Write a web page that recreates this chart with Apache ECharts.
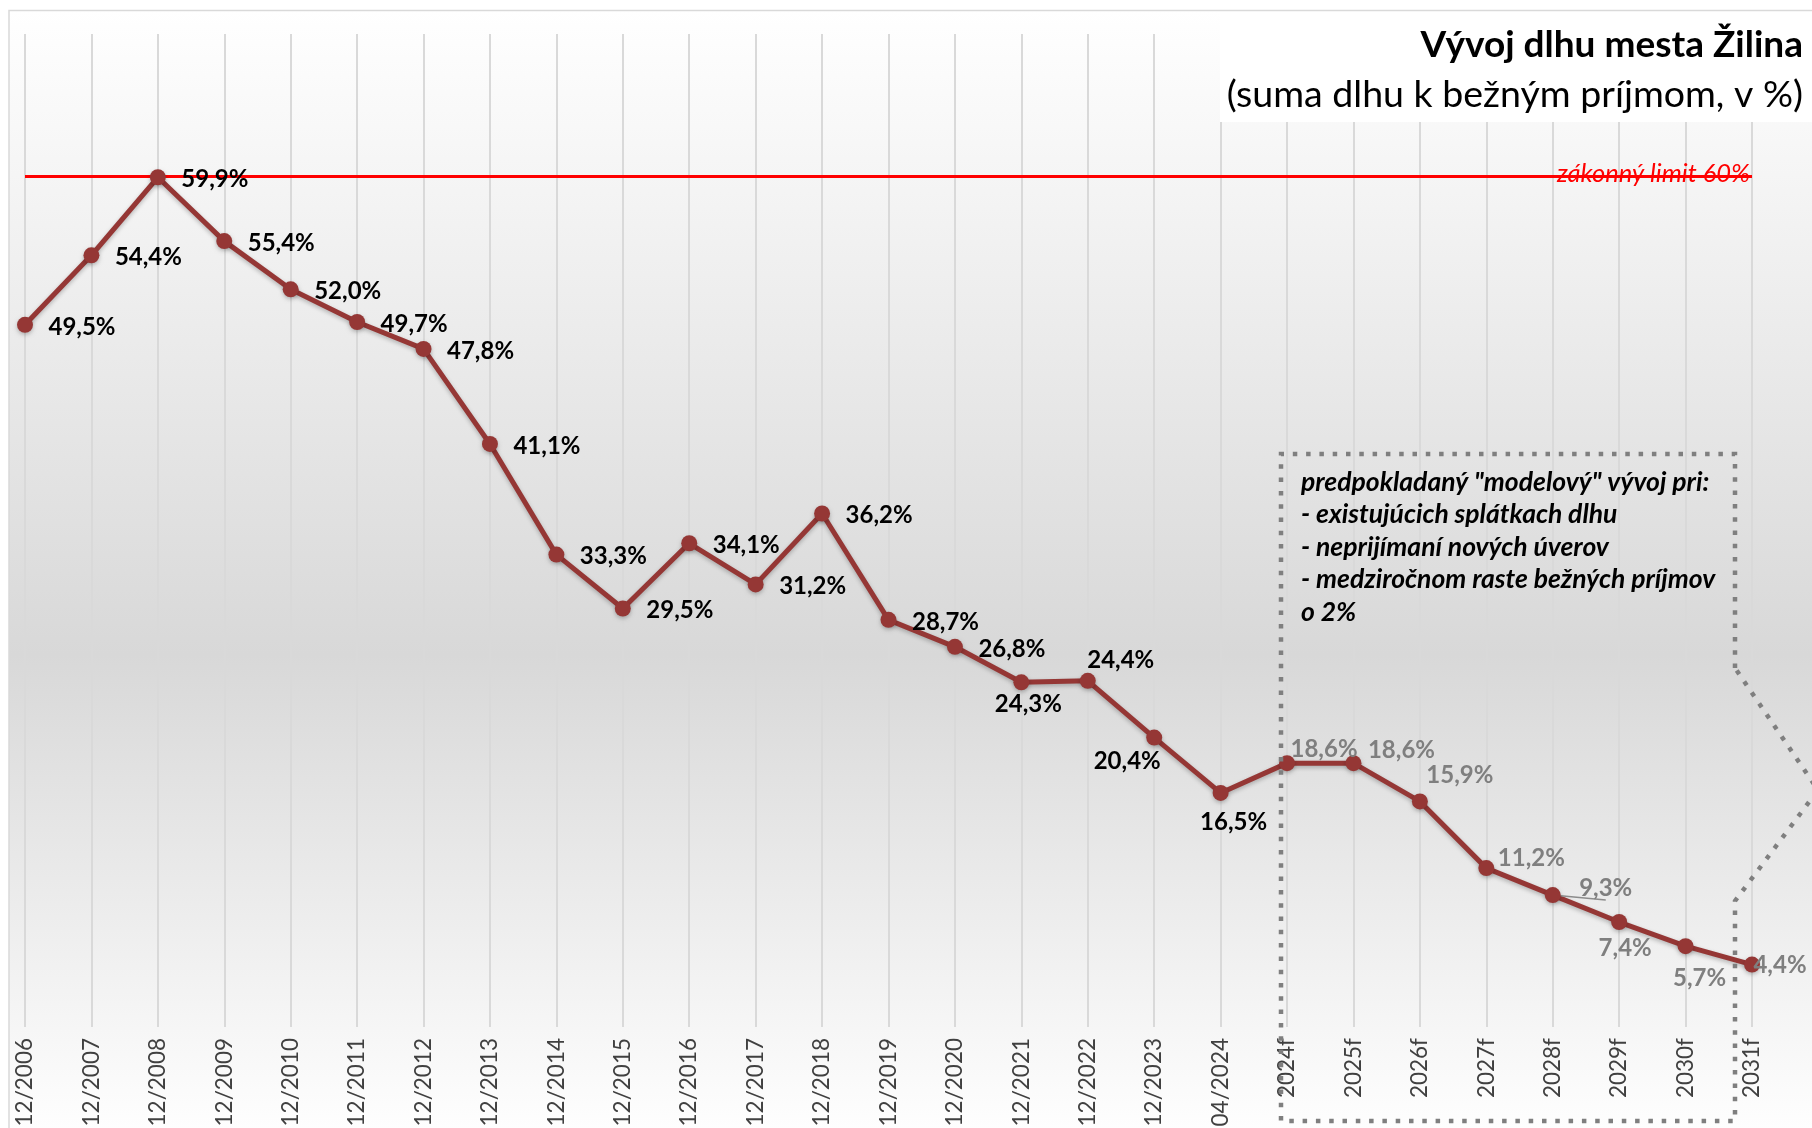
<!DOCTYPE html>
<html>
<head>
<meta charset="utf-8">
<script src="https://cdn.jsdelivr.net/npm/echarts@6/dist/echarts.min.js"></script>
<style>
html,body{margin:0;padding:0;background:#fff;}
#chart{width:1812px;height:1128px;}
</style>
</head>
<body>
<div id="chart"></div>
<script>
// ---- data ----
const categories = ['12/2006','12/2007','12/2008','12/2009','12/2010','12/2011','12/2012','12/2013','12/2014','12/2015','12/2016','12/2017','12/2018','12/2019','12/2020','12/2021','12/2022','12/2023','04/2024','2024f','2025f','2026f','2027f','2028f','2029f','2030f','2031f'];
const historyValues = [49.5,54.4,59.9,55.4,52.0,49.7,47.8,41.1,33.3,29.5,34.1,31.2,36.2,28.7,26.8,24.3,24.4,20.4,16.5];
const forecastValues = [18.6,18.6,15.9,11.2,9.3,7.4,5.7,4.4];
const legalLimit = 60;
const yTicks = {min: 0, max: 70};
const titleText = 'Vývoj dlhu mesta Žilina';
const subtitleText = '(suma dlhu k bežným príjmom, v %)';
const limitLabel = 'zákonný limit 60%';
const noteLines = ['predpokladaný "modelový" vývoj pri:','- existujúcich splátkach dlhu','- neprijímaní nových úverov','- medziročnom raste bežných príjmov','o 2%'];

// ---- label placement (layout only) ----
const R = [57, 2];
const labelOffsets = [R,R,R,R,R,R,R,R,R,R,R,R,R,R,R,[7,22],[33,-21],[-27,24],[13,29],[37,-14],[48,-13],[40,-26],[45,-10],[53,-7],[6,26],[14,32],[28,1]];

const values = historyValues.concat(forecastValues);
const seriesData = values.map((v, i) => {
  const isForecast = i >= historyValues.length;
  const item = {
    value: v,
    label: {offset: labelOffsets[i], color: isForecast ? '#7f7f7f' : '#000000'}
  };
  if (categories[i] === '2028f') {
    item.labelLine = {show: true, lineStyle: {color: '#8c8c8c', width: 1.5}};
  }
  return item;
});

const chart = echarts.init(document.getElementById('chart'), null, {renderer: 'canvas'});
const FONT = 'Lato, "Open Sans", sans-serif';

chart.setOption({
  animation: false,
  backgroundColor: '#ffffff',
  graphic: [
    {type: 'rect', z: -100, silent: true,
     shape: {x: 9, y: 10.5, width: 1820, height: 1130},
     style: {fill: new echarts.graphic.LinearGradient(0, 0, 0, 1, [
        {offset: 0, color: '#ffffff'},
        {offset: 0.57, color: '#d8d8d8'},
        {offset: 1, color: '#ffffff'}]), stroke: '#d9d9d9', lineWidth: 1.5}},
    {type: 'rect', z: 50, silent: true,
     shape: {x: 1220, y: 12, width: 592, height: 110},
     style: {fill: '#ffffff'}},
    {type: 'polyline', z: 60, silent: true,
     shape: {points: [[1735,668],[1735,454],[1281,454],[1281,1121],[1735,1121],[1735,901],[1818,790],[1735,668]]},
     style: {stroke: '#7f7f7f', lineWidth: 4.5, lineDash: [4.5, 8.8], fill: null}},
    {type: 'text', z: 61, silent: true, x: 1301, y: 466,
     style: {text: noteLines.join('\n'), font: 'italic bold 26.5px ' + FONT, fill: '#000000', lineHeight: 32.5, textVerticalAlign: 'top'}}
  ],
  title: [
    {text: titleText, right: 9, top: 27, padding: 0, z: 70,
     textStyle: {fontFamily: FONT, fontWeight: 'bold', fontSize: 37, color: '#000000'}},
    {text: subtitleText, right: 9, top: 76, padding: 0, z: 70,
     textStyle: {fontFamily: FONT, fontWeight: 'normal', fontSize: 37.5, color: '#000000'}}
  ],
  grid: {left: 25, right: 60, top: 34, bottom: 101, containLabel: false, outerBoundsMode: 'none'},
  xAxis: {
    type: 'category', data: categories, boundaryGap: false,
    axisLine: {show: false}, axisTick: {show: false},
    splitLine: {show: true, lineStyle: {color: '#d9d9d9', width: 2}},
    axisLabel: {rotate: 90, interval: 0, margin: 11, fontSize: 22.5, color: '#404040', fontFamily: FONT}
  },
  yAxis: {type: 'value', min: yTicks.min, max: yTicks.max, show: false},
  series: [{
    type: 'line', data: seriesData, z: 10,
    symbol: 'circle', symbolSize: 16,
    lineStyle: {color: '#953735', width: 5, shadowBlur: 4, shadowColor: 'rgba(0,0,0,0.25)', shadowOffsetY: 2},
    itemStyle: {color: '#953735', shadowBlur: 4, shadowColor: 'rgba(0,0,0,0.25)', shadowOffsetY: 2},
    label: {show: true, position: 'inside', fontFamily: FONT, fontWeight: 'bold', fontSize: 24,
      formatter: p => p.value.toFixed(1).replace('.', ',') + '%'},
    emphasis: {disabled: true},
    markLine: {
      silent: true, symbol: 'none', z: 5,
      lineStyle: {color: '#ff0000', width: 3, type: 'solid'},
      label: {show: true, position: 'insideEndTop', formatter: limitLabel, color: '#ff0000',
        fontStyle: 'italic', fontSize: 25.5, fontFamily: FONT, distance: [2, -11]},
      data: [{yAxis: legalLimit}]
    }
  }]
});
</script>
</body>
</html>
